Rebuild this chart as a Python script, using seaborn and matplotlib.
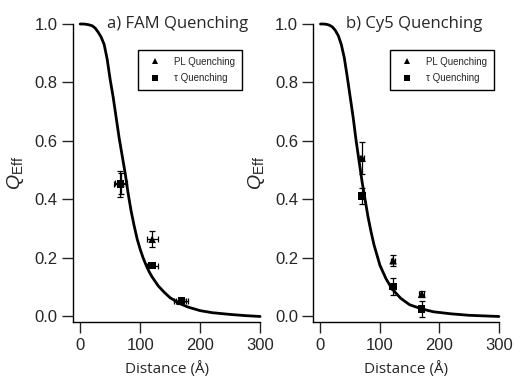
import seaborn as sns
import matplotlib.pyplot as plt
import pandas as pd

# fit curves
fam_curve_x = [0, 5, 10, 15, 20, 25, 30, 35, 40, 45, 50, 55, 60, 65, 70, 75, 80, 85, 90, 95, 100,
               105, 110, 115, 120, 130, 140, 150, 165, 180, 200, 220, 250, 275, 300]
fam_curve_y = [1.0, 1.0, 0.999, 0.997, 0.994, 0.986, 0.972, 0.955, 0.93, 0.88, 0.81, 0.75, 0.68, 0.61,
               0.55, 0.49, 0.42, 0.36, 0.31, 0.265, 0.23, 0.2, 0.175, 0.153, 0.135, 0.105, 0.083, 0.064,
               0.045, 0.032, 0.02, 0.013, 0.007, 0.003, 0.0]
cy5_curve_x = [0, 5, 10, 15, 20, 25, 30, 35, 40, 45, 50, 55, 60, 65, 70, 75, 80, 85, 90, 95, 100,
               110, 120, 135, 150, 170, 190, 220, 250, 275, 300]
cy5_curve_y = [1.0, 1.0, 0.999, 0.996, 0.99, 0.978, 0.96, 0.93, 0.885, 0.82, 0.75, 0.68, 0.60, 0.53,
               0.46, 0.40, 0.34, 0.29, 0.245, 0.21, 0.175, 0.13, 0.095, 0.062, 0.04, 0.026, 0.016,
               0.009, 0.004, 0.002, 0.0]

# measured points
fam_pl_x = [68, 120, 167]
fam_pl_y = [0.455, 0.264, 0.052]
fam_pl_yerr = [0.035, 0.028, 0.006]
fam_pl_xerr = [10, 9, 10]
fam_tau_x = [67, 120, 169]
fam_tau_y = [0.452, 0.174, 0.054]
fam_tau_yerr = [0.044, 0.006, 0.006]
fam_tau_xerr = [10, 9, 10]

cy5_pl_x = [70, 122, 170]
cy5_pl_y = [0.541, 0.191, 0.076]
cy5_pl_yerr = [0.055, 0.018, 0.01]
cy5_pl_xerr = [4, 4, 4]
cy5_tau_x = [70, 122, 170]
cy5_tau_y = [0.412, 0.102, 0.025]
cy5_tau_yerr = [0.028, 0.029, 0.028]
cy5_tau_xerr = [3, 3, 3]

titles = ["a) FAM Quenching", "b) Cy5 Quenching"]

sns.set_theme(style="ticks")
plt.rcParams['font.family'] = ['Liberation Sans', 'DejaVu Sans']
plt.rcParams['mathtext.fontset'] = 'custom'
plt.rcParams['mathtext.it'] = 'Liberation Sans:italic'
plt.rcParams['mathtext.rm'] = 'Liberation Sans'

fig = plt.figure(figsize=(5.14, 3.81), dpi=100)
ax1 = fig.add_axes([0.142, 0.154, 0.364, 0.783])
ax2 = fig.add_axes([0.6096, 0.154, 0.361, 0.783])

panels = [
    (ax1, fam_curve_x, fam_curve_y, fam_pl_x, fam_pl_y, fam_pl_xerr, fam_pl_yerr,
     fam_tau_x, fam_tau_y, fam_tau_xerr, fam_tau_yerr, titles[0], 45, (0.93, 0.93)),
    (ax2, cy5_curve_x, cy5_curve_y, cy5_pl_x, cy5_pl_y, cy5_pl_xerr, cy5_pl_yerr,
     cy5_tau_x, cy5_tau_y, cy5_tau_xerr, cy5_tau_yerr, titles[1], 43, (1.0, 0.93)),
]

for (ax, cx, cy, px, py, pxe, pye, tx, ty, txe, tye, title, tpos, lpos) in panels:
    curve = pd.DataFrame({"d": cx, "q": cy})
    sns.lineplot(data=curve, x="d", y="q", ax=ax, color="black", linewidth=2, clip_on=False)

    ax.errorbar(px, py, xerr=pxe, yerr=pye, fmt="none", ecolor="black",
                elinewidth=0.9, capsize=2.5, capthick=0.9)
    ax.errorbar(tx, ty, xerr=txe, yerr=tye, fmt="none", ecolor="black",
                elinewidth=0.9, capsize=2.5, capthick=0.9)

    pts = pd.DataFrame({
        "d": px + tx,
        "q": py + ty,
        "kind": ["PL Quenching"] * len(px) + ["\u03c4 Quenching"] * len(tx),
    })
    sns.scatterplot(data=pts, x="d", y="q", style="kind", markers=["^", "s"],
                    color="black", s=30, edgecolor="black", linewidth=0, ax=ax, zorder=5)

    ax.set_xlim(-12, 300)
    ax.set_ylim(-0.02, 1.0)
    ax.set_xticks([0, 100, 200, 300])
    ax.set_yticks([0.0, 0.2, 0.4, 0.6, 0.8, 1.0])
    ax.set_yticklabels(["0.0", "0.2", "0.4", "0.6", "0.8", "1.0"])
    ax.tick_params(direction="out", length=8, width=1, labelsize=12, pad=3)
    for s in ["left", "bottom"]:
        ax.spines[s].set_linewidth(1)
        ax.spines[s].set_color("black")
    sns.despine(ax=ax)

    ax.set_xlabel("Distance (\u00c5)", fontsize=11, family=["Open Sans", "DejaVu Sans"], labelpad=6)
    ax.set_ylabel(r"$Q_{\mathrm{Eff}}$", fontsize=14, labelpad=6)
    ax.text(tpos, 1.0, title, fontsize=12, family=["Open Sans", "DejaVu Sans"],
            va="center", ha="left")

    leg = ax.legend(loc="upper right", bbox_to_anchor=lpos, fontsize=7,
                    frameon=True, fancybox=False, edgecolor="black", framealpha=1,
                    handlelength=2, handletextpad=1.0, borderpad=0.7, labelspacing=0.7,
                    markerscale=0.8)
    leg.get_frame().set_linewidth(1)

fig.savefig("out.png", dpi=100)
